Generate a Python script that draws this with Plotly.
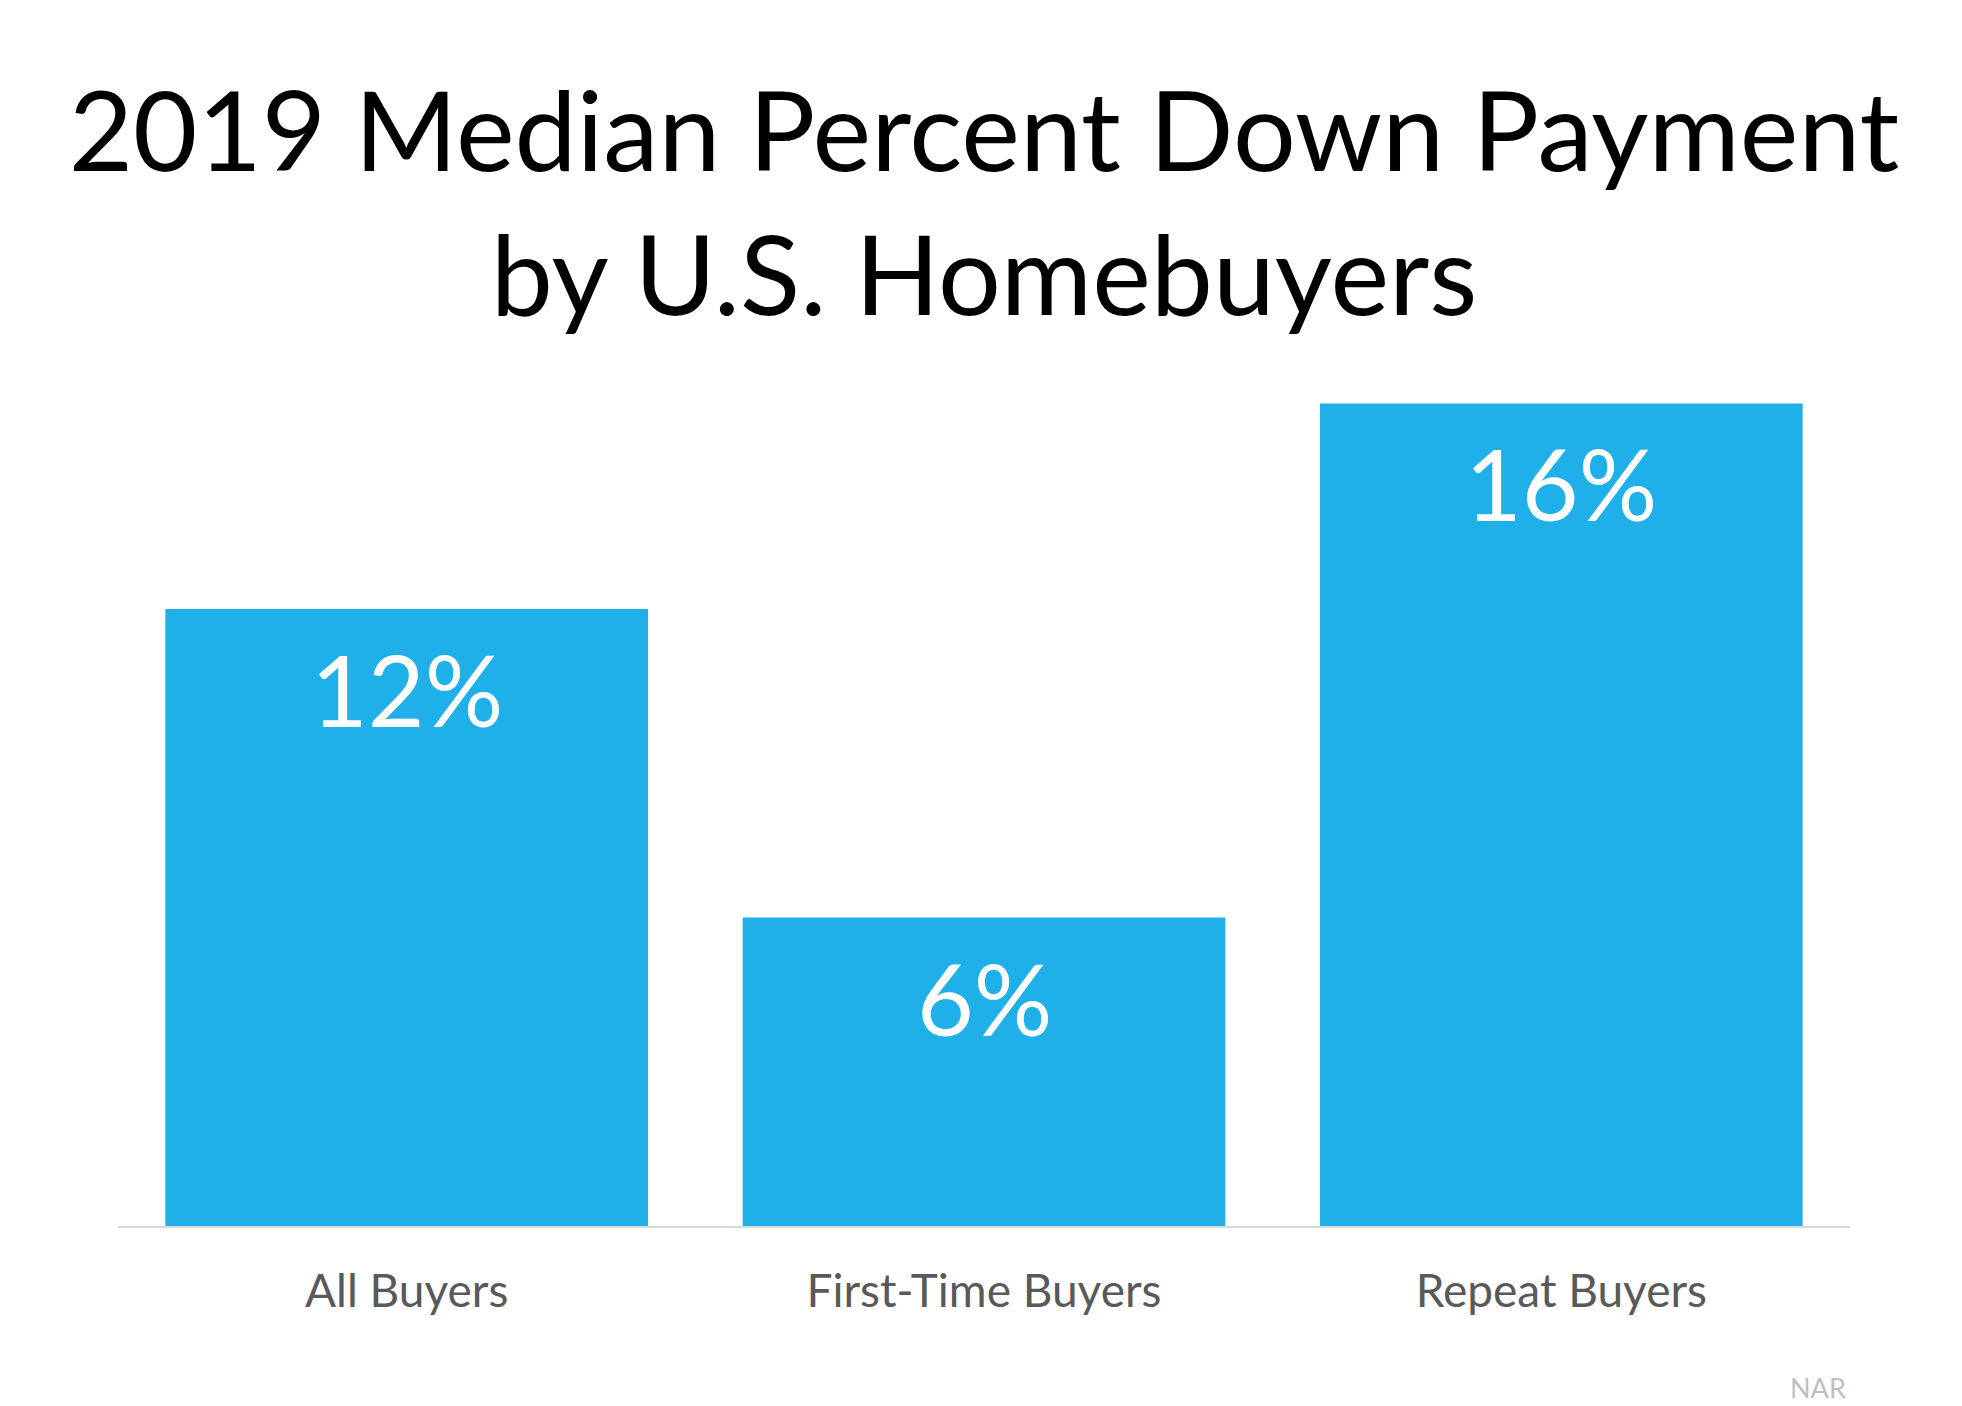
import plotly.graph_objects as go

categories = ["All Buyers", "First-Time Buyers", "Repeat Buyers"]
values = [12, 6, 16]
labels = ["12%", "6%", "16%"]

BAR = "#1fb0ea"
FONT = "Lato"

fig = go.Figure()
fig.add_trace(go.Bar(
    x=categories, y=values, marker=dict(color=BAR, line=dict(width=0)),
    hoverinfo="skip", showlegend=False,
))

for c, v, t in zip(categories, values, labels):
    fig.add_annotation(x=c, y=v, text=t, showarrow=False, xref="x", yref="y",
                       yanchor="top", yshift=-19,
                       font=dict(family=FONT, size=98, color="white"))

fig.add_annotation(x=1, y=0, xref="paper", yref="paper", text="NAR",
                   showarrow=False, xanchor="right", yanchor="top", xshift=-2, yshift=-143,
                   font=dict(family=FONT, size=27, color="#bfbfbf"))

fig.update_layout(
    width=1962, height=1406,
    margin=dict(l=110, r=120, t=341, b=188),
    paper_bgcolor="white", plot_bgcolor="white",
    bargap=0.164,
    title=dict(text="2019 Median Percent Down Payment<br>by U.S. Homebuyers",
               x=0.5, xanchor="center", xref="paper", y=0.884, yanchor="top", yref="container",
               font=dict(family=FONT, size=111, color="black")),
    xaxis=dict(showgrid=False, showline=True, linecolor="#d9d9d9", linewidth=2,
               ticks="", tickfont=dict(family=FONT, size=46, color="#595959"),
               ticklabelstandoff=24),
    yaxis=dict(range=[0, 17.06], visible=False, showgrid=False),
)

fig.write_html("out.html")
